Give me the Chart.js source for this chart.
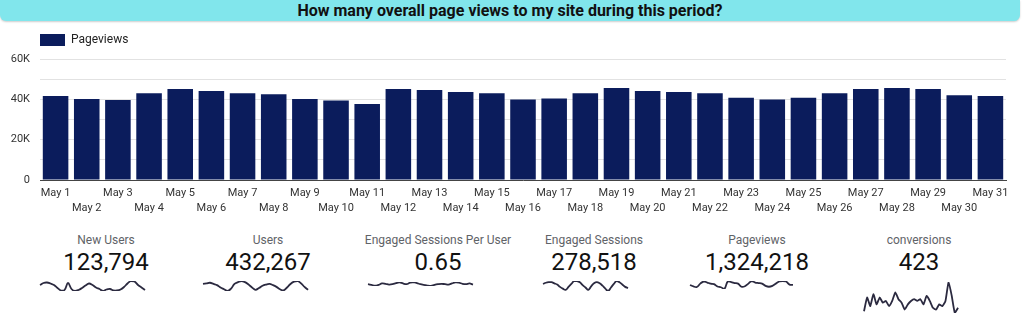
<!DOCTYPE html>
<html>
<head>
<meta charset="utf-8">
<script src="https://cdn.jsdelivr.net/npm/chart.js@4/dist/chart.umd.min.js"></script>
<style>
  body { margin: 0; width: 1024px; height: 324px; background: #fff; font-family: Roboto, sans-serif; position: relative; overflow: hidden; }
  #titleBar { position: absolute; left: 0; top: 0; width: 1020px; height: 21px; background: #81e6ec; border-radius: 0 0 6px 6px; box-shadow: 0 1px 2px rgba(0,0,0,0.2); text-align: center; font-weight: bold; font-size: 16px; line-height: 22px; color: #111; }
  #mainWrap { position: absolute; left: 0; top: 24px; width: 1024px; height: 196px; }
  .card { position: absolute; width: 180px; text-align: center; }
  .card .lbl { position: absolute; top: 233px; width: 100%; font-size: 12px; color: #5f6368; }
  .card .num { position: absolute; top: 248px; width: 100%; font-size: 24px; color: #111; }
  .spark { position: absolute; }
</style>
</head>
<body>
<div id="titleBar">How many overall page views to my site during this period?</div>
<div id="mainWrap"><canvas id="myChart"></canvas></div>
<script>
// daily pageviews, May 1 - May 31
const days = []
for (let d = 1; d <= 31; d++) days.push('May ' + d)
const pageviews = [41700, 40200, 39700, 43000, 45100, 44100, 43000, 42500, 40200, 39400,
  37700, 45100, 44600, 43600, 43000, 39900, 40400, 43000, 45600, 44100,
  43600, 43000, 40800, 39900, 40800, 43000, 45100, 45600, 45100, 42000, 41700]
const yTicks = [0, 20000, 40000, 60000]
const yTickText = ['0', '20K', '40K', '60K']

// scorecards
const cardNames = ['New Users', 'Users', 'Engaged Sessions Per User', 'Engaged Sessions', 'Pageviews', 'conversions']
const cardValues = ['123,794', '432,267', '0.65', '278,518', '1,324,218', '423']
const cardCenters = [106, 268, 438, 594, 757, 919]

// sparkline series (daily)
const newUsers = [3964, 4012, 4024, 4000, 3964, 3892, 3832, 3844, 4012, 3868, 3820, 3844, 3892, 3952, 4000, 3964,
  3904, 3868, 3820, 3856, 3868, 3832, 3832, 3856, 3916, 4000, 4060, 4048, 3964, 3904, 3844]
const users = [14025, 14050, 14075, 14025, 13975, 13875, 13800, 13725, 13825, 14025, 14100, 14150, 14100, 14000, 13875, 13775,
  13850, 13950, 14000, 14025, 13975, 13900, 13800, 13750, 13875, 14025, 14125, 14150, 14050, 13900, 13775]
const sessPerUser = [0.650, 0.648, 0.646, 0.648, 0.652, 0.651, 0.649, 0.650, 0.653, 0.655, 0.652, 0.650, 0.654, 0.656, 0.653, 0.650,
  0.648, 0.646, 0.645, 0.648, 0.650, 0.651, 0.650, 0.649, 0.652, 0.655, 0.654, 0.651, 0.650, 0.652, 0.649]
const engagedSessions = [9125, 9155, 9170, 9170, 9140, 9110, 9050, 9005, 8975, 9050, 9125, 9200, 9200, 9170, 9095, 9035,
  8975, 9065, 9140, 9170, 9140, 9080, 9005, 8945, 9035, 9125, 9200, 9170, 9110, 9050, 9020]
const conversions = [8, 16, 11, 18, 12, 16, 13, 14, 11, 14, 19, 15, 13, 9, 12, 14, 15, 14, 15, 12, 17, 14, 10, 9, 12, 11, 14, 25, 17, 7, 10]

// sparkline boxes: [left, top, width, height]
const sparkBoxes = [[38, 279, 109, 14], [201, 279, 109, 14], [366, 280, 109, 8], [541, 279, 89, 14], [688, 279, 107, 12], [862, 280, 98, 35]]
const sparkData = [newUsers, users, sessPerUser, engagedSessions, pageviews, conversions]

const navy = '#0b1c5c'

// nudge the legend: a bit taller, and start it over the plot area
const legendNudge = {
  id: 'legendNudge',
  beforeInit(chart) {
    const lg = chart.legend
    const fit = lg.fit
    lg.fit = function () { fit.call(this); this.height += 3 }
  },
  afterLayout(chart) {
    chart.legend.left += 30
    chart.legend.right += 30
  }
}

new Chart(document.getElementById('myChart'), {
  type: 'bar',
  data: {
    labels: days.map((d, i) => i % 2 === 0 ? [d] : ['', d]),
    datasets: [{
      label: 'Pageviews',
      data: pageviews,
      backgroundColor: navy,
      barPercentage: 0.82,
      categoryPercentage: 1
    }]
  },
  plugins: [legendNudge],
  options: {
    responsive: true,
    maintainAspectRatio: false,
    animation: false,
    layout: { padding: { left: 0, right: 18, top: 0, bottom: 0 } },
    plugins: {
      legend: {
        position: 'top',
        align: 'start',
        labels: { boxWidth: 25, boxHeight: 12, padding: 10, color: '#222', font: { family: 'Roboto', size: 12 } }
      },
      tooltip: { enabled: false }
    },
    scales: {
      x: {
        grid: { display: false, drawTicks: false },
        border: { color: '#444' },
        afterFit: (scale) => { scale.height = 40 },
        ticks: { autoSkip: false, maxRotation: 0, padding: 6, color: '#333', font: { family: 'Roboto', size: 11, lineHeight: 1.35 } }
      },
      y: {
        min: 0,
        max: 60000,
        border: { display: false },
        grid: { color: '#e2e2e2', drawTicks: false },
        afterFit: (scale) => { scale.width = 40 },
        ticks: {
          stepSize: 10000,
          padding: 10,
          color: '#333',
          font: { family: 'Roboto', size: 11 },
          callback: (v) => { const i = yTicks.indexOf(v); return i >= 0 ? yTickText[i] : '' }
        }
      }
    }
  }
})

cardNames.forEach((name, i) => {
  const c = document.createElement('div')
  c.className = 'card'
  c.style.left = (cardCenters[i] - 90) + 'px'
  c.innerHTML = `<div class="lbl">${name}</div><div class="num">${cardValues[i]}</div>`
  document.body.appendChild(c)

  const b = sparkBoxes[i]
  const vals = sparkData[i]
  const cv = document.createElement('canvas')
  cv.className = 'spark'
  cv.width = b[2]; cv.height = b[3]
  cv.style.left = b[0] + 'px'; cv.style.top = b[1] + 'px'
  cv.style.width = b[2] + 'px'; cv.style.height = b[3] + 'px'
  document.body.appendChild(cv)
  new Chart(cv, {
    type: 'line',
    data: {
      labels: days,
      datasets: [{ data: vals, borderColor: '#2b2a40', borderWidth: 1.8, pointRadius: 0, tension: i === 5 ? 0.15 : 0.4, fill: false }]
    },
    options: {
      responsive: false,
      animation: false,
      layout: { padding: 2 },
      plugins: { legend: { display: false }, tooltip: { enabled: false } },
      scales: {
        x: { display: false },
        y: { display: false, min: Math.min(...vals), max: Math.max(...vals) }
      }
    }
  })
})
</script>
</body>
</html>
